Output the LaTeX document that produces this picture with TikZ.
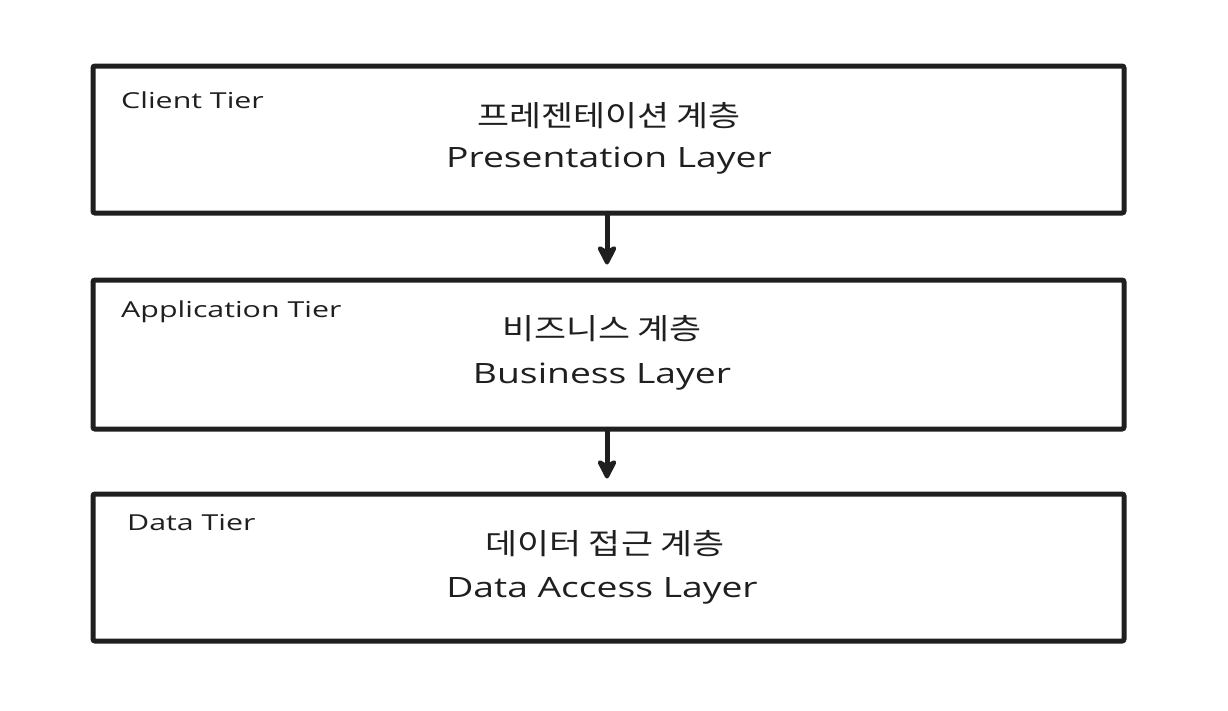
\documentclass[tikz,border=0pt]{standalone}
\usepackage{fontspec}
\setmainfont{Open Sans}
\newfontfamily\kor[FakeStretch=1.2]{Noto Sans CJK KR}
\newfontfamily\engwide[FakeStretch=1.33]{Open Sans}
\newfontfamily\tierwide[FakeStretch=1.38]{Open Sans}
\usetikzlibrary{arrows.meta}
\begin{document}
\begin{tikzpicture}[x=1pt,y=-1pt,
  tier/.style={draw=black!88,line width=5pt,rounded corners=2pt,minimum width=1031pt,inner sep=0pt},
  tierlabel/.style={anchor=west,font=\tierwide\fontsize{22}{26}\selectfont,text=black!88,inner sep=0pt},
  kline/.style={font=\kor\fontsize{29}{33}\selectfont,text=black!88,inner sep=0pt},
  eline/.style={font=\engwide\fontsize{28}{32}\selectfont,text=black!88,inner sep=0pt},
  flow/.style={draw=black!88,line width=5pt,line cap=round,line join=round,
    -{Stealth[length=24pt,width=24pt,inset=7pt,round]},shorten >=13pt}]
\useasboundingbox (0,0) rectangle (1228,710);
\node[tier,minimum height=147pt] (b1) at (608.5,139.5) {};
\node[tier,minimum height=149pt] (b2) at (608.5,354.5) {};
\node[tier,minimum height=147pt] (b3) at (608.5,567.5) {};
\node[tierlabel] (t1) at (121,100) {Client Tier};
\node[tierlabel] (t2) at (121,312) {Application Tier};
\node[tierlabel] (t3) at (127,523) {Data Tier};
\node[kline] (k1) at (609,116) {프레젠테이션 계층};
\node[eline] (e1) at (609,161) {Presentation Layer};
\node[kline] (k2) at (602,329) {비즈니스 계층};
\node[eline] (e2) at (602,377) {Business Layer};
\node[kline] (k3) at (605,544) {데이터 접근 계층};
\node[eline] (e3) at (602,591) {Data Access Layer};
\coordinate (a1s) at (b1.south -| 607,0);
\coordinate (a1e) at (b2.north -| 607,0);
\coordinate (a2s) at (b2.south -| 607,0);
\coordinate (a2e) at (b3.north -| 607,0);
\draw[flow] (a1s) -- (a1e);
\draw[flow] (a2s) -- (a2e);
\end{tikzpicture}
\end{document}
